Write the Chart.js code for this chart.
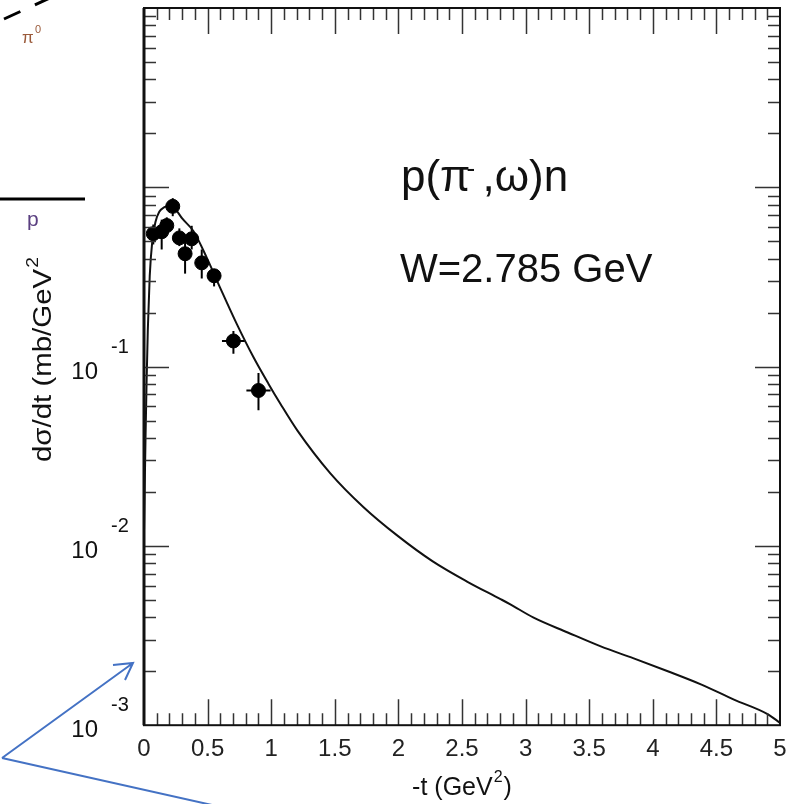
<!DOCTYPE html>
<html>
<head>
<meta charset="utf-8">
<script src="https://cdn.jsdelivr.net/npm/chart.js@4.4.1/dist/chart.umd.min.js"></script>
<style>
  html, body { margin: 0; padding: 0; background: #fff; }
  #wrap { width: 798px; height: 804px; position: relative; }
</style>
</head>
<body>
<div id="wrap"><canvas id="grafico"></canvas></div>
<script>
// curva del modelo: -t (GeV^2) y dsigma/dt (mb/GeV^2)
const curveT = [0, 0.005, 0.012, 0.02, 0.03, 0.045, 0.065, 0.09, 0.12, 0.16, 0.205, 0.25, 0.3, 0.388, 0.494, 0.598, 0.73, 0.861, 0.979, 1.071, 1.205, 1.465, 1.724, 2.0, 2.27, 2.543, 2.803, 2.88, 3.063, 3.331, 3.591, 3.85, 4.118, 4.378, 4.638, 4.906, 5.0];
const curveY = [0.012, 0.02, 0.04, 0.08, 0.16, 0.32, 0.5, 0.64, 0.73, 0.775, 0.79, 0.75, 0.67, 0.57, 0.404, 0.276, 0.1726, 0.1127, 0.0801, 0.0623, 0.0441, 0.0254, 0.0165, 0.0113, 0.0082, 0.00631, 0.00505, 0.00472, 0.00398, 0.00329, 0.00275, 0.00236, 0.002, 0.00169, 0.00139, 0.00115, 0.00103];

// datos experimentales
const dataT = [0.073, 0.139, 0.179, 0.226, 0.278, 0.323, 0.375, 0.454, 0.551, 0.703, 0.900];
const dataY = [0.551, 0.565, 0.612, 0.783, 0.522, 0.426, 0.516, 0.379, 0.321, 0.139, 0.0736];
const dataYLow = [0.48, 0.45, 0.55, 0.69, 0.47, 0.33, 0.45, 0.31, 0.28, 0.118, 0.057];
const dataYHigh = [0.62, 0.66, 0.68, 0.87, 0.59, 0.50, 0.61, 0.45, 0.35, 0.158, 0.092];
const dataTErr = [0, 0, 0, 0, 0, 0, 0, 0, 0, 0.09, 0.095];

// etiquetas del eje y (solo las visibles)
const yLabelExps = [-1, -2, -3];

const FONT = '"Liberation Sans", Arial, Helvetica, sans-serif';

//Barras de error
const barrasError = {
  id: 'barrasError',
  beforeDatasetsDraw(chart) {
    const { ctx, scales: { x, y } } = chart;
    ctx.save();
    ctx.strokeStyle = '#000';
    ctx.lineWidth = 2;
    dataT.forEach((t, i) => {
      const px = x.getPixelForValue(t);
      const py = y.getPixelForValue(dataY[i]);
      ctx.beginPath();
      ctx.moveTo(px, y.getPixelForValue(dataYLow[i]));
      ctx.lineTo(px, y.getPixelForValue(dataYHigh[i]));
      if (dataTErr[i] > 0) {
        ctx.moveTo(x.getPixelForValue(t - dataTErr[i]), py);
        ctx.lineTo(x.getPixelForValue(t + dataTErr[i]), py);
      }
      ctx.stroke();
    });
    ctx.restore();
  }
};

//Marcas hacia adentro en los cuatro lados + marco
const marcasEjes = {
  id: 'marcasEjes',
  afterDatasetsDraw(chart) {
    const { ctx, chartArea: a, scales: { x, y } } = chart;
    ctx.save();
    ctx.strokeStyle = '#333';
    ctx.lineWidth = 1.5;
    ctx.beginPath();
    for (let i = 1; i < 50; i++) {
      const px = Math.round(x.getPixelForValue(i / 10)) + 0.5;
      const len = i % 5 === 0 ? 26 : 12;
      ctx.moveTo(px, a.bottom); ctx.lineTo(px, a.bottom - len);
      ctx.moveTo(px, a.top); ctx.lineTo(px, a.top + len);
    }
    for (let e = -3; e <= 0; e++) {
      for (let m = 1; m <= 9; m++) {
        if (e === -3 && m === 1) continue;
        const py = Math.round(y.getPixelForValue(m * Math.pow(10, e))) + 0.5;
        const len = m === 1 ? 25 : 12;
        ctx.moveTo(a.left, py); ctx.lineTo(a.left + len, py);
        ctx.moveTo(a.right, py); ctx.lineTo(a.right - len, py);
      }
    }
    ctx.stroke();
    ctx.strokeStyle = '#111';
    ctx.lineWidth = 2;
    ctx.strokeRect(a.left, a.top, a.right - a.left, a.bottom - a.top);
    ctx.lineWidth = 3;
    ctx.beginPath();
    ctx.moveTo(a.left, a.top); ctx.lineTo(a.left, a.bottom);
    ctx.stroke();
    ctx.restore();
  }
};

//Textos: etiquetas 10^n, titulos y anotaciones
const textos = {
  id: 'textos',
  afterDraw(chart) {
    const { ctx, chartArea: a, scales: { y } } = chart;
    ctx.save();
    ctx.fillStyle = '#111';
    ctx.textBaseline = 'alphabetic';

    yLabelExps.forEach(e => {
      const py = y.getPixelForValue(Math.pow(10, e));
      ctx.font = '24px ' + FONT;
      ctx.textAlign = 'right';
      ctx.fillText('10', a.left - 46, py + 12);
      ctx.font = '20px ' + FONT;
      ctx.textAlign = 'left';
      ctx.fillText(String(e), a.left - 33, py - 14);
    });

    // titulo eje x
    ctx.textAlign = 'left';
    ctx.font = '25px ' + FONT;
    const xt = '-t (GeV';
    const xw = ctx.measureText(xt).width;
    ctx.font = '16px ' + FONT;
    const sw = ctx.measureText('2').width;
    ctx.font = '25px ' + FONT;
    const cw = ctx.measureText(')').width;
    const total = xw + sw + cw + 2;
    const cx = (a.left + a.right) / 2 - total / 2;
    ctx.fillText(xt, cx, 795);
    ctx.font = '16px ' + FONT;
    ctx.fillText('2', cx + xw + 1, 782);
    ctx.font = '25px ' + FONT;
    ctx.fillText(')', cx + xw + sw + 2, 795);

    // titulo eje y (rotado)
    ctx.save();
    ctx.translate(51, 462);
    ctx.rotate(-Math.PI / 2);
    ctx.font = '26px ' + FONT;
    const yt = 'd\u03c3/dt (mb/GeV';
    const yw = ctx.measureText(yt).width;
    ctx.font = '17px ' + FONT;
    const y2 = ctx.measureText('2').width;
    ctx.scale(205 / (yw + y2 + 1), 1);
    ctx.font = '26px ' + FONT;
    ctx.fillText(yt, 0, 0);
    ctx.font = '17px ' + FONT;
    ctx.fillText('2', yw + 1, -13);
    ctx.restore();

    // reaccion
    ctx.font = '44px ' + FONT;
    let px = 401;
    ctx.fillText('p(\u03c0', px, 191);
    px += ctx.measureText('p(\u03c0').width;
    ctx.font = '26px ' + FONT;
    ctx.fillText('-', px - 4, 177);
    px += 12;
    ctx.font = '44px ' + FONT;
    ctx.fillText(',\u03c9)n', px, 191);

    ctx.font = '40px ' + FONT;
    ctx.fillText('W=2.785 GeV', 400, 282);

    // restos de la figura vecina
    ctx.strokeStyle = '#000';
    ctx.lineWidth = 3;
    ctx.setLineDash([18, 16]);
    ctx.beginPath();
    ctx.moveTo(4, 19); ctx.lineTo(52, -3);
    ctx.stroke();
    ctx.setLineDash([]);
    ctx.beginPath();
    ctx.moveTo(0, 199); ctx.lineTo(85, 199);
    ctx.stroke();
    ctx.fillStyle = '#9a5a3a';
    ctx.font = '17px ' + FONT;
    ctx.fillText('\u03c0', 22, 43);
    ctx.font = '11px ' + FONT;
    ctx.fillText('0', 35, 33);
    ctx.fillStyle = '#5a3f80';
    ctx.font = '21px ' + FONT;
    ctx.fillText('p', 27, 226);

    // flechas azules
    ctx.strokeStyle = '#4472c4';
    ctx.lineWidth = 2;
    ctx.beginPath();
    ctx.moveTo(2, 758); ctx.lineTo(133, 663);
    ctx.moveTo(113, 665); ctx.lineTo(133, 663); ctx.lineTo(125, 680);
    ctx.moveTo(2, 758); ctx.lineTo(212, 805);
    ctx.stroke();
    ctx.restore();
  }
};

const ctx = document.getElementById('grafico').getContext('2d');
new Chart(ctx, {
  type: 'scatter',
  data: {
    datasets: [
      {
        label: 'modelo',
        data: curveT.map((t, i) => ({ x: t, y: curveY[i] })),
        showLine: true,
        borderColor: '#111',
        borderWidth: 2,
        pointRadius: 0,
        cubicInterpolationMode: 'monotone',
        order: 2
      },
      {
        label: 'datos',
        data: dataT.map((t, i) => ({ x: t, y: dataY[i] })),
        pointRadius: 7,
        pointBackgroundColor: '#000',
        pointBorderColor: '#000',
        order: 1
      }
    ]
  },
  options: {
    responsive: true,
    maintainAspectRatio: false,
    animation: false,
    layout: { padding: { left: 144, right: 18, top: 6, bottom: 30 } },
    plugins: { legend: { display: false }, tooltip: { enabled: false } },
    scales: {
      x: {
        type: 'linear',
        min: 0,
        max: 5,
        grid: { display: false, drawTicks: false },
        border: { display: false },
        ticks: {
          stepSize: 0.5,
          autoSkip: false,
          maxRotation: 0,
          padding: 10,
          color: '#222',
          font: { family: FONT, size: 24 },
          callback: v => String(v)
        }
      },
      y: {
        type: 'logarithmic',
        min: 0.001,
        max: 10,
        grid: { display: false, drawTicks: false },
        border: { display: false },
        ticks: { display: false }
      }
    }
  },
  plugins: [barrasError, marcasEjes, textos]
});
</script>
</body>
</html>
